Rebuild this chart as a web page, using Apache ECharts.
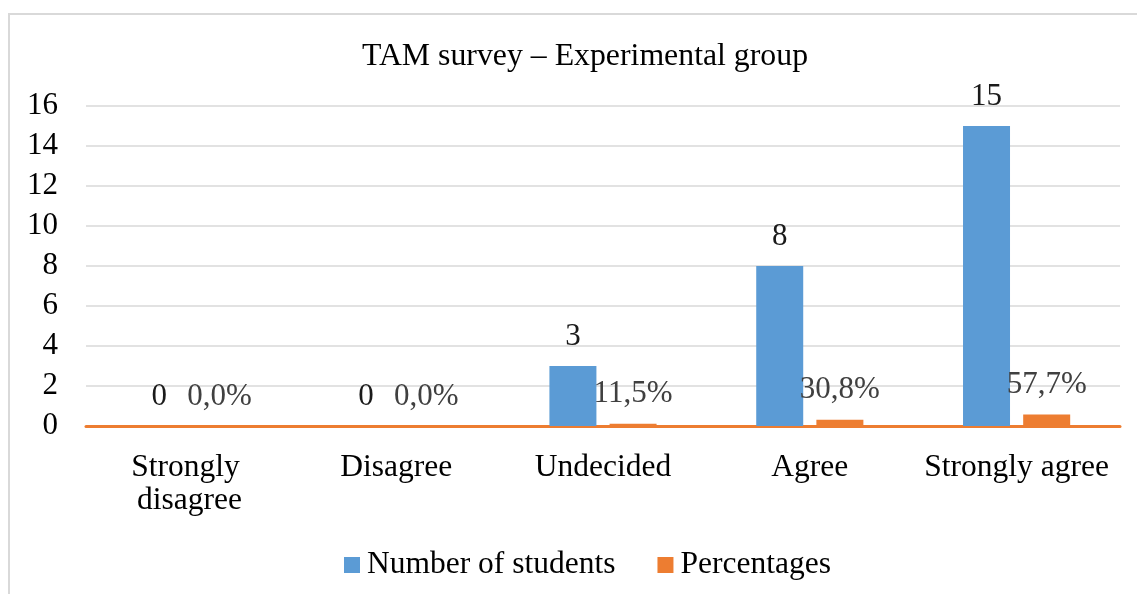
<!DOCTYPE html>
<html>
<head>
<meta charset="utf-8">
<script src="https://cdn.jsdelivr.net/npm/echarts@6/dist/echarts.min.js"></script>
<style>
  html, body { margin: 0; padding: 0; background: #fff; }
  #chart { width: 1137px; height: 594px; }
</style>
</head>
<body>
<div id="chart"></div>
<script>
// Survey answers (Likert scale)
const categories = ['Strongly disagree', 'Disagree', 'Undecided', 'Agree', 'Strongly agree'];
// Number of students per answer
const studentCounts = [0, 0, 3, 8, 15];
// Share of students per answer (fractions, shown as percentages)
const percentages = [0, 0, 0.115, 0.308, 0.577];
// Value axis ticks
const yTicks = [0, 2, 4, 6, 8, 10, 12, 14, 16];

const FONT = '"Liberation Serif", "Times New Roman", serif';
const BLUE = '#5B9BD5';
const ORANGE = '#ED7D31';

const fmtPct = v => (v * 100).toFixed(1).replace('.', ',') + '%';

const chart = echarts.init(document.getElementById('chart'), null, { renderer: 'canvas' });
chart.setOption({
  animation: false,
  backgroundColor: '#fff',
  textStyle: { fontFamily: FONT },
  graphic: [{
    type: 'rect',
    shape: { x: 9, y: 14, width: 1160, height: 620 },
    style: { fill: 'none', stroke: '#d9d9d9', lineWidth: 2 },
    silent: true,
    z: -10
  }],
  title: {
    text: 'TAM survey \u2013 Experimental group',
    left: 357,
    top: 36,
    textStyle: { fontFamily: FONT, fontSize: 31.8, fontWeight: 'normal', color: '#000' }
  },
  legend: {
    left: 339,
    top: 544,
    icon: 'rect',
    itemWidth: 16,
    itemHeight: 16,
    itemGap: 42,
    textStyle: { fontFamily: FONT, fontSize: 31.5, color: '#000', padding: [0, 0, 0, 2] },
    data: ['Number of students', 'Percentages']
  },
  grid: { left: 86, right: 17, top: 106, bottom: 168, containLabel: false },
  xAxis: {
    type: 'category',
    data: categories,
    axisTick: { show: false },
    axisLine: { show: true, lineStyle: { color: ORANGE, width: 3 } },
    axisLabel: {
      fontFamily: FONT, fontSize: 31.5, color: '#000', margin: 25,
      width: 200, overflow: 'break', lineHeight: 33, interval: 0
    }
  },
  yAxis: {
    type: 'value',
    min: yTicks[0],
    max: yTicks[yTicks.length - 1],
    interval: 2,
    axisLine: { show: false },
    axisTick: { show: false },
    axisLabel: { fontFamily: FONT, fontSize: 31, color: '#000', margin: 28 },
    splitLine: { lineStyle: { color: '#d9d9d9', width: 1.5 } }
  },
  series: [
    {
      name: 'Number of students',
      type: 'bar',
      data: studentCounts,
      barWidth: 47,
      barGap: '28%',
      itemStyle: { color: BLUE },
      label: {
        show: true, position: 'top', distance: 14,
        fontFamily: FONT, fontSize: 31, color: '#1a1a1a'
      }
    },
    {
      name: 'Percentages',
      type: 'bar',
      data: percentages,
      barWidth: 47,
      itemStyle: { color: ORANGE },
      label: {
        show: true, position: 'top', distance: 14,
        fontFamily: FONT, fontSize: 31, color: '#404040',
        formatter: p => fmtPct(p.value)
      }
    }
  ]
});
</script>
</body>
</html>
